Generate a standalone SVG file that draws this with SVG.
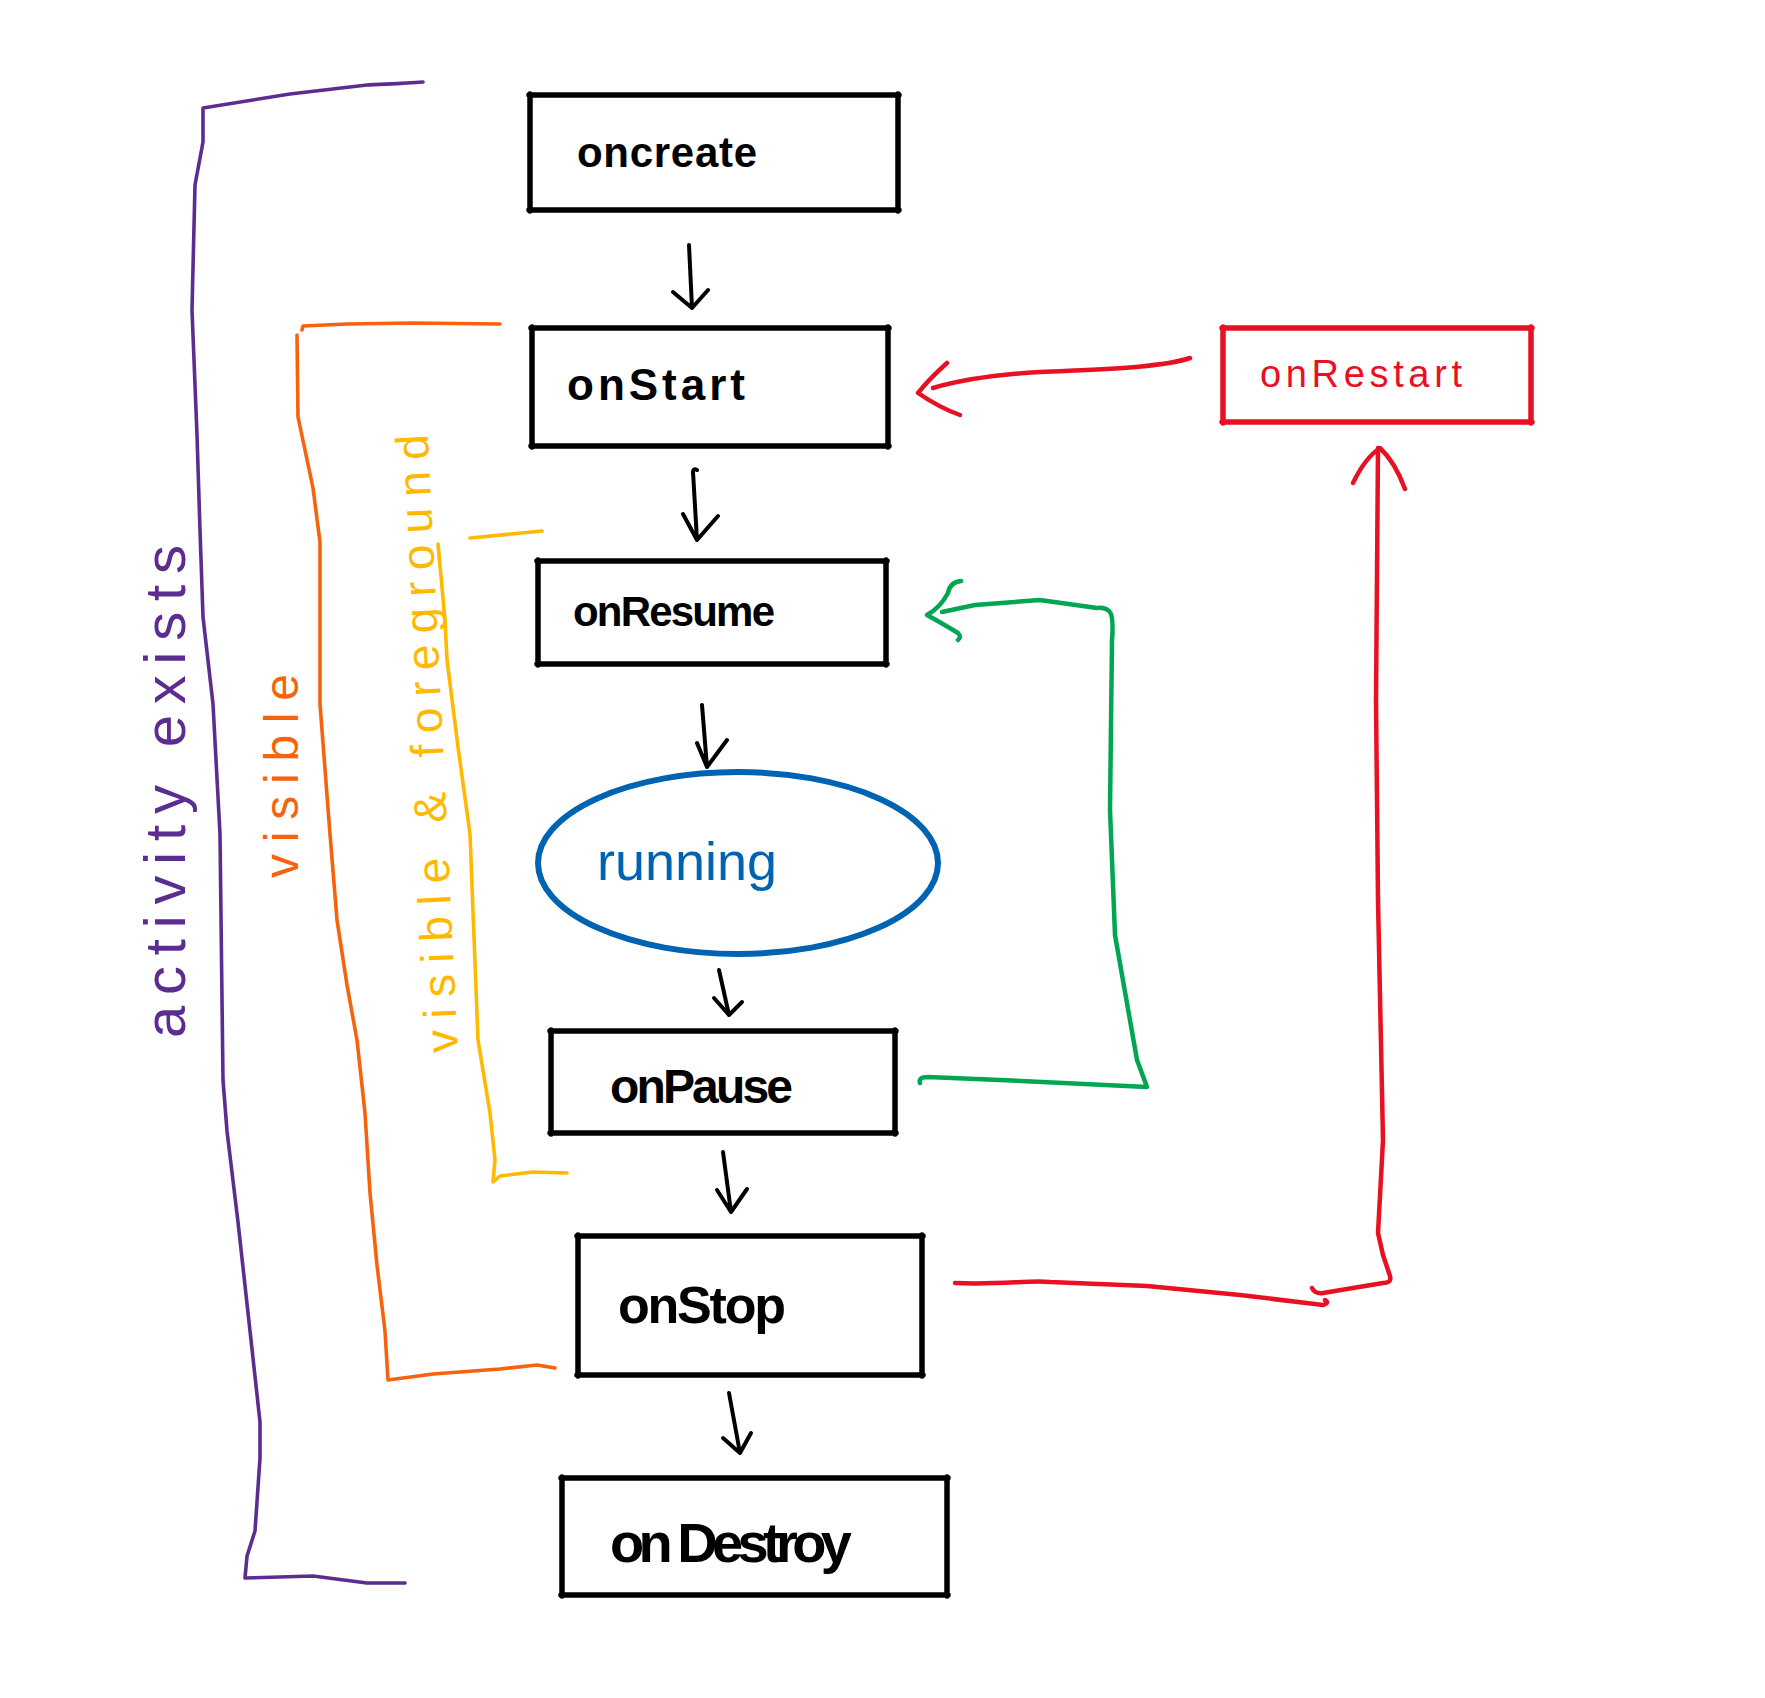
<svg xmlns="http://www.w3.org/2000/svg" width="1765" height="1698" viewBox="0 0 1765 1698">
<style>
.box{fill:none;stroke:#000;stroke-width:5.5;stroke-linecap:round;stroke-linejoin:round}
.lbl{font-family:"Liberation Sans",Arial,sans-serif;fill:#000;font-weight:bold}
.arr{fill:none;stroke:#000;stroke-width:4;stroke-linecap:round;stroke-linejoin:round}
.red{fill:none;stroke:#E81123;stroke-width:4.5;stroke-linecap:round;stroke-linejoin:round}
.grn{fill:none;stroke:#00A651;stroke-width:4.5;stroke-linecap:round;stroke-linejoin:round}
.brk{fill:none;stroke-width:3.6;stroke-linecap:round;stroke-linejoin:round}
.side{font-family:"Liberation Sans",Arial,sans-serif}
</style>
<rect width="1765" height="1698" fill="#fff"/>
<g id="brackets">
<path class="brk" stroke="#5C2D91" d="M423,82 C400,84 380,84 367,85 L290,94 L203,108 L203,142 L195,185 L192,310 L197,435 L200,530 L203,617 L213,704 L220,834 L223,1080 L227,1131 L238,1222 L252,1349 L260,1422 L260,1458 L255,1531 L247,1556 L245,1578 L313,1576 L367,1583 L405,1583"/>
<path class="brk" stroke="#F7630C" d="M500,324 L413,323 L347,324 L303,326 L302,330 M297,335 L298,417 L313,488 L320,542 L320,704 L330,834 L337,920 L347,985 L357,1040 L365,1113 L370,1193 L377,1265 L385,1331 L388,1380 L433,1374 L500,1369 L537,1365 L555,1368"/>
<path class="brk" stroke="#FFB900" d="M470,538 L542,531 M438,544 L445,620 L447,660 L458,747 L470,834 L478,1040 L490,1113 L495,1160 L493,1182 L500,1176 L533,1172 L567,1173"/>
<text class="side" fill="#5C2D91" font-size="58" textLength="493" lengthAdjust="spacing" transform="translate(185,1038) rotate(-90)">activity exists</text>
<text class="side" fill="#F7630C" font-size="48" textLength="204" lengthAdjust="spacing" transform="translate(298,878) rotate(-90)">visible</text>
<text class="side" fill="#FFB900" font-size="46" textLength="619" lengthAdjust="spacing" transform="translate(458,1052) rotate(-92.8)">visible &amp; foreground</text>
</g>
<g id="node-oncreate">
<path class="box" d="M529,95 L899,95 M529,210 L899,210 M530,94 L530,211 M898,94 L898,211"/>
<text class="lbl" x="577" y="167" font-size="42" textLength="180" lengthAdjust="spacing">oncreate</text>
</g>
<g id="node-onStart">
<path class="box" d="M531,328 L889,328 M531,446 L889,446 M532,327 L532,447 M888,327 L888,447"/>
<text class="lbl" x="567" y="400" font-size="44" textLength="178" lengthAdjust="spacing">onStart</text>
</g>
<g id="node-onResume">
<path class="box" d="M537,561 L887,561 M537,664 L887,664 M538,560 L538,665 M886,560 L886,665"/>
<text class="lbl" x="573" y="626" font-size="42" textLength="202" lengthAdjust="spacing">onResume</text>
</g>
<g id="node-running">
<ellipse cx="738" cy="863" rx="200" ry="91" fill="none" stroke="#0063B1" stroke-width="6"/>
<text class="side" x="597" y="880" font-size="54" fill="#0063B1" textLength="180" lengthAdjust="spacing">running</text>
</g>
<g id="node-onPause">
<path class="box" d="M550,1031 L896,1031 M550,1133 L896,1133 M551,1030 L551,1134 M895,1030 L895,1134"/>
<text class="lbl" x="610" y="1103" font-size="48" textLength="183" lengthAdjust="spacing">onPause</text>
</g>
<g id="node-onStop">
<path class="box" d="M577,1236 L923,1236 M577,1375 L923,1375 M578,1235 L578,1376 M922,1235 L922,1376"/>
<text class="lbl" x="618" y="1323" font-size="52" textLength="168" lengthAdjust="spacing">onStop</text>
</g>
<g id="node-onDestroy">
<path class="box" d="M561,1478 L948,1478 M561,1595 L948,1595 M562,1477 L562,1596 M947,1477 L947,1596"/>
<text class="lbl" x="610" y="1562" font-size="56" textLength="242" lengthAdjust="spacing">on Destroy</text>
</g>
<g id="node-onRestart">
<path d="M1222,328 L1532,328 M1222,422 L1532,422 M1223,327 L1223,423 M1531,327 L1531,423" fill="none" stroke="#E81123" stroke-width="5.5" stroke-linecap="round"/>
<text class="side" x="1260" y="387" font-size="38" fill="#E81123" textLength="202" lengthAdjust="spacing">onRestart</text>
</g>
<g id="connectors">
<path class="arr" d="M689,245 L692,308 M673,292 L692,308 L708,290"/>
<path class="arr" d="M697,470 q-4,-2 -4,2 L697,540 M683,514 L697,540 L718,516"/>
<path class="arr" d="M702,705 L707,767 M697,743 L707,767 L727,740"/>
<path class="arr" d="M719,970 L729,1015 M714,998 L729,1015 L742,1002"/>
<path class="arr" d="M723,1152 L731,1212 M717,1190 L731,1212 L747,1189"/>
<path class="arr" d="M729,1393 L740,1453 M723,1438 L740,1453 L751,1433"/>
<path class="red" d="M1190,358 C1160,368 1100,369 1040,372 C990,375 960,380 933,388 M947,363 Q930,378 918,393 Q940,408 960,415"/>
<path class="red" d="M955,1283 C1000,1285 1030,1280 1050,1282 L1147,1286 L1240,1295 L1323,1305 Q1330,1303 1325,1300 M1312,1288 Q1315,1294 1323,1293 L1383,1283 Q1392,1283 1390,1276 L1383,1255 L1378,1233 L1383,1140 L1378,900 L1376,700 L1378,448 M1353,483 Q1365,458 1380,448 Q1395,462 1405,489"/>
<path class="grn" d="M920,1083 Q918,1077 928,1077 L1000,1080 L1147,1087 L1137,1060 L1115,935 L1110,810 L1112,640 Q1114,615 1109,611 Q1105,607 1097,608 L1040,600 L975,605 L942,612 M961,581 Q950,582 948,593 Q940,608 927,615 Q945,625 958,633 Q962,637 958,640"/>
</g>
</svg>
